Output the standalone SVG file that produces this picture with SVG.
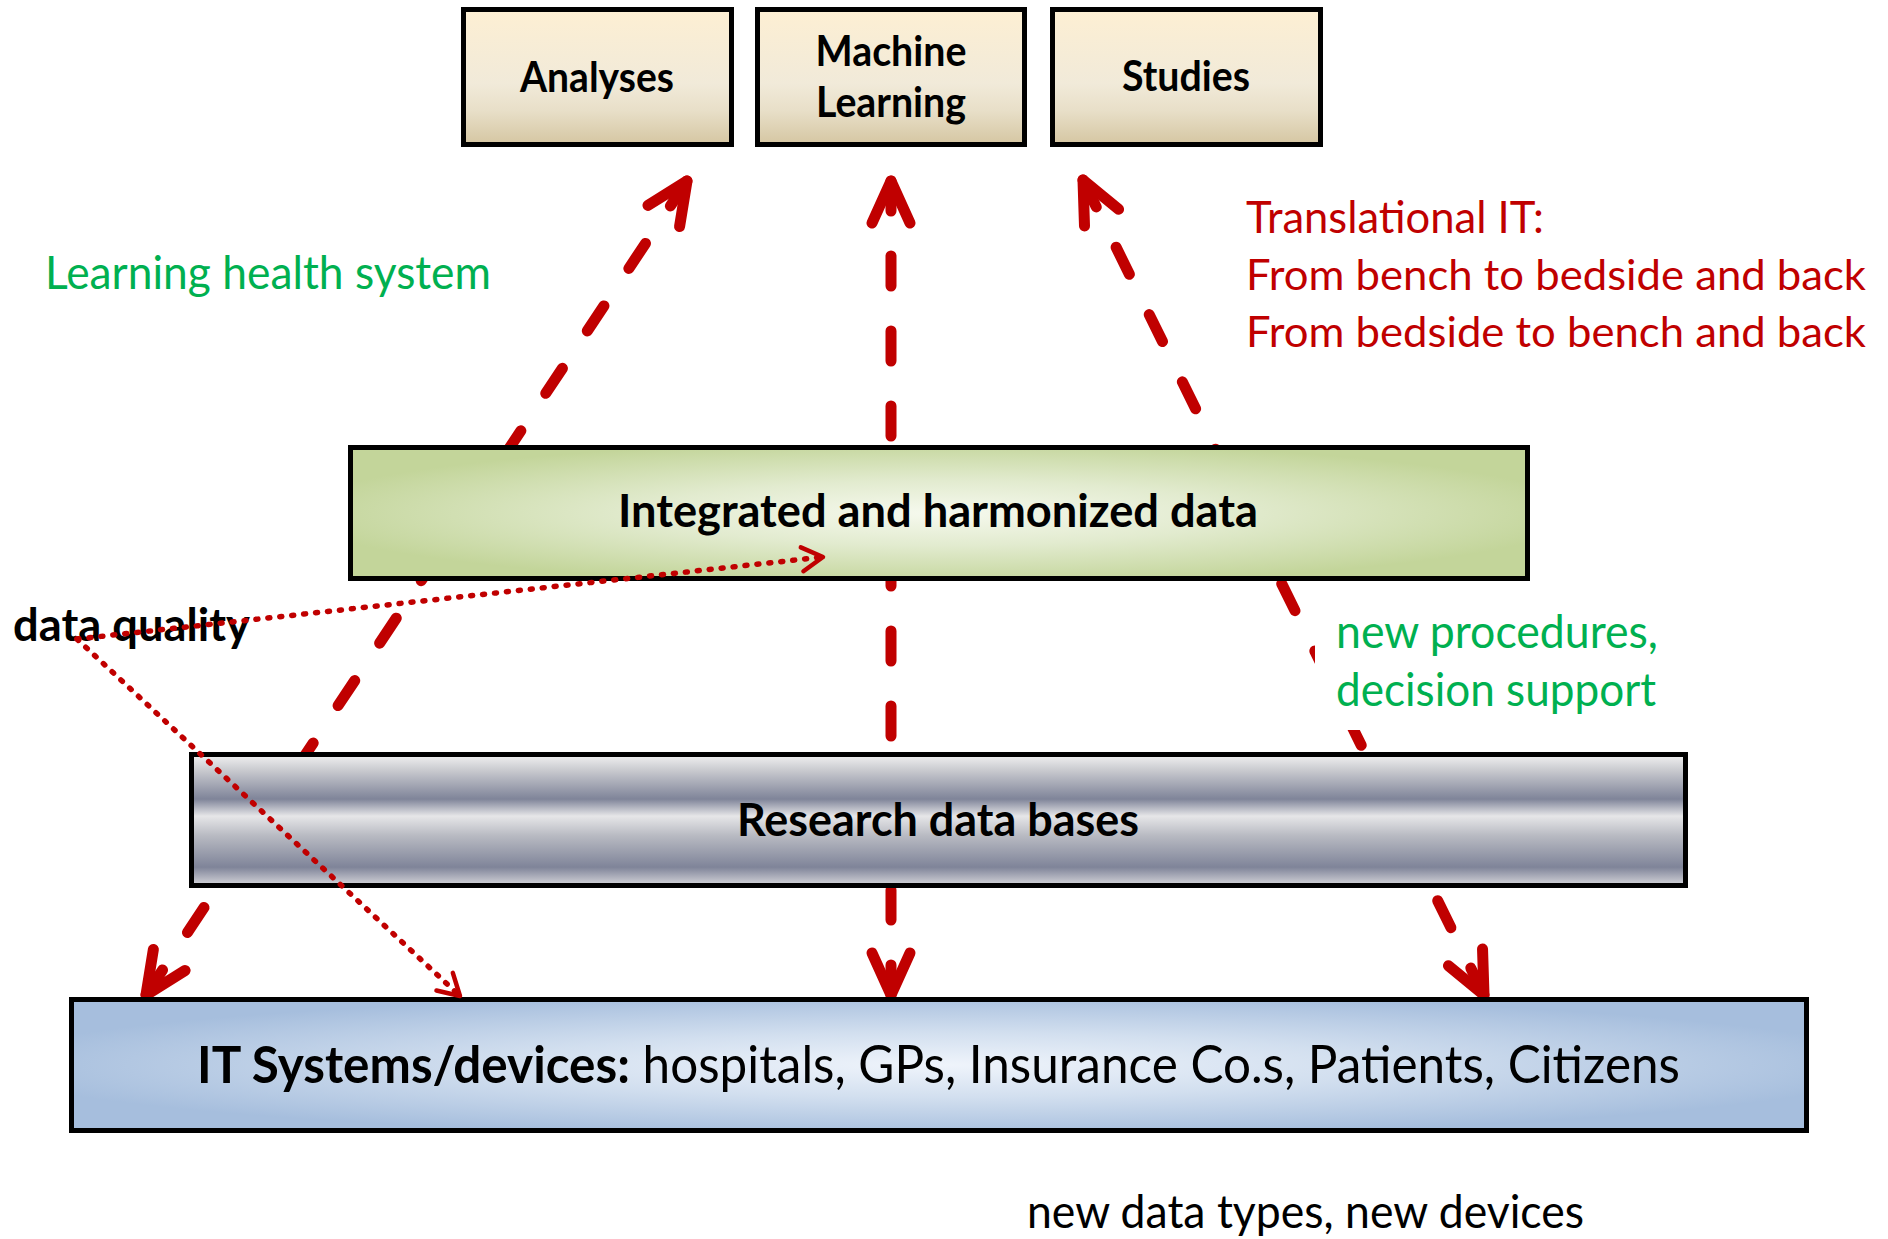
<svg xmlns="http://www.w3.org/2000/svg" width="1888" height="1239" viewBox="0 0 1888 1239">
<defs>
<linearGradient id="gTop" x1="0" y1="0" x2="0" y2="1">
<stop offset="0" stop-color="#FDEFD3"/><stop offset="0.55" stop-color="#F1EAD9"/><stop offset="0.75" stop-color="#E8DFC8"/><stop offset="1" stop-color="#D5C6A2"/>
</linearGradient>
<radialGradient id="gGreen" cx="0.5" cy="0.5" r="0.55">
<stop offset="0" stop-color="#F6F9EE"/><stop offset="0.45" stop-color="#E2EBCF"/><stop offset="1" stop-color="#C3D59A"/>
</radialGradient>
<linearGradient id="gGrey" x1="0" y1="0" x2="0" y2="1">
<stop offset="0" stop-color="#F2F2F2"/><stop offset="0.12" stop-color="#C9CACF"/><stop offset="0.34" stop-color="#7F8499"/><stop offset="0.47" stop-color="#E6E6E8"/><stop offset="0.62" stop-color="#B8BAC2"/><stop offset="0.86" stop-color="#7F8499"/><stop offset="1" stop-color="#D6D6DA"/>
</linearGradient>
<radialGradient id="gBlue" cx="0.5" cy="0.5" r="0.55">
<stop offset="0" stop-color="#EFF4FB"/><stop offset="0.45" stop-color="#D2DFEF"/><stop offset="1" stop-color="#A6BEDD"/>
</radialGradient>
<marker id="ah" markerUnits="userSpaceOnUse" orient="auto" viewBox="-10 -30 60 60" markerWidth="60" markerHeight="60" refX="0" refY="0" overflow="visible">
<path d="M42,-19 L0,0 L42,19" fill="none" stroke="#C00000" stroke-width="11" stroke-linecap="round" stroke-linejoin="round"/>
</marker>
<marker id="dh" markerUnits="userSpaceOnUse" orient="auto" viewBox="-30 -20 40 40" markerWidth="40" markerHeight="40" refX="0" refY="0" overflow="visible">
<path d="M-21,-12 L0,0 L-21,12" fill="none" stroke="#C00000" stroke-width="4.5" stroke-linecap="round" stroke-linejoin="round"/>
</marker>
</defs>
<style>
.dash{fill:none;stroke:#C00000;stroke-width:11;stroke-linecap:round;stroke-dasharray:30 45;marker-start:url(#ah)}
.dot{fill:none;stroke:#C00000;stroke-width:5.5;stroke-linecap:round;stroke-dasharray:2 10;marker-end:url(#dh)}
.box{stroke:#000;stroke-width:5}
.t{font-family:Lato,"Open Sans","Liberation Sans",sans-serif}
.b{font-weight:bold}
.c{text-anchor:middle}
.red{fill:#C00000}
.grn{fill:#00B050}
</style>
<rect width="1888" height="1239" fill="#fff"/>
<g id="connectors">
<path class="dash" d="M687,181 L262,820"/>
<path class="dash" d="M146,995 L262,820"/>
<path class="dash" d="M891,181 L891,820"/>
<path class="dash" d="M891,995 L891,820"/>
<path class="dash" d="M1083,180 L1398,820"/>
<path class="dash" d="M1484,995 L1398,820"/>
</g>
<g id="analyses">
<rect class="box" x="463.5" y="9.5" width="268" height="135" fill="url(#gTop)"/>
<text class="t b c" x="597" y="92" font-size="42" textLength="154" lengthAdjust="spacingAndGlyphs">Analyses</text>
</g>
<g id="machine-learning">
<rect class="box" x="757.5" y="9.5" width="267" height="135" fill="url(#gTop)"/>
<text class="t b c" x="891" y="66" font-size="42" textLength="151" lengthAdjust="spacingAndGlyphs">Machine</text>
<text class="t b c" x="891" y="117" font-size="42" textLength="150" lengthAdjust="spacingAndGlyphs">Learning</text>
</g>
<g id="studies">
<rect class="box" x="1052.5" y="9.5" width="268" height="135" fill="url(#gTop)"/>
<text class="t b c" x="1186" y="91" font-size="42" textLength="128" lengthAdjust="spacingAndGlyphs">Studies</text>
</g>
<g id="integrated">
<rect class="box" x="350.5" y="447.5" width="1177" height="131" fill="url(#gGreen)"/>
<text class="t b c" x="938" y="527" font-size="46" textLength="640" lengthAdjust="spacingAndGlyphs">Integrated and harmonized data</text>
</g>
<g id="research">
<rect class="box" x="191.5" y="754.5" width="1494" height="131" fill="url(#gGrey)"/>
<text class="t b c" x="938" y="836" font-size="46" textLength="402" lengthAdjust="spacingAndGlyphs">Research data bases</text>
</g>
<g id="it-systems">
<rect class="box" x="71.5" y="999.5" width="1735" height="131" fill="url(#gBlue)"/>
<text class="t" x="197" y="1083" font-size="52" textLength="1483" lengthAdjust="spacingAndGlyphs"><tspan class="b">IT Systems/devices:</tspan> hospitals, GPs, Insurance Co.s, Patients, Citizens</text>
</g>
<g id="labels">
<text class="t grn" x="45" y="289" font-size="46" textLength="446" lengthAdjust="spacingAndGlyphs">Learning health system</text>
<text class="t red" x="1246" y="233" font-size="44" textLength="298" lengthAdjust="spacingAndGlyphs">Translational IT:</text>
<text class="t red" x="1246" y="290" font-size="43" textLength="620" lengthAdjust="spacingAndGlyphs">From bench to bedside and back</text>
<text class="t red" x="1246" y="347" font-size="43" textLength="620" lengthAdjust="spacingAndGlyphs">From bedside to bench and back</text>
<rect x="1315" y="600" width="350" height="130" fill="#fff"/>
<text class="t grn" x="1336" y="648" font-size="46" textLength="322" lengthAdjust="spacingAndGlyphs">new procedures,</text>
<text class="t grn" x="1336" y="706" font-size="46" textLength="320" lengthAdjust="spacingAndGlyphs">decision support</text>
<text class="t" x="1027" y="1228" font-size="47" textLength="557" lengthAdjust="spacingAndGlyphs">new data types, new devices</text>
</g>
<g id="data-quality">
<text class="t b" x="13" y="641" font-size="46" textLength="237" lengthAdjust="spacingAndGlyphs">data quality</text>
<path class="dot" d="M77,639 L823,557"/>
<path class="dot" d="M77,639 L460,996"/>
</g>
</svg>
